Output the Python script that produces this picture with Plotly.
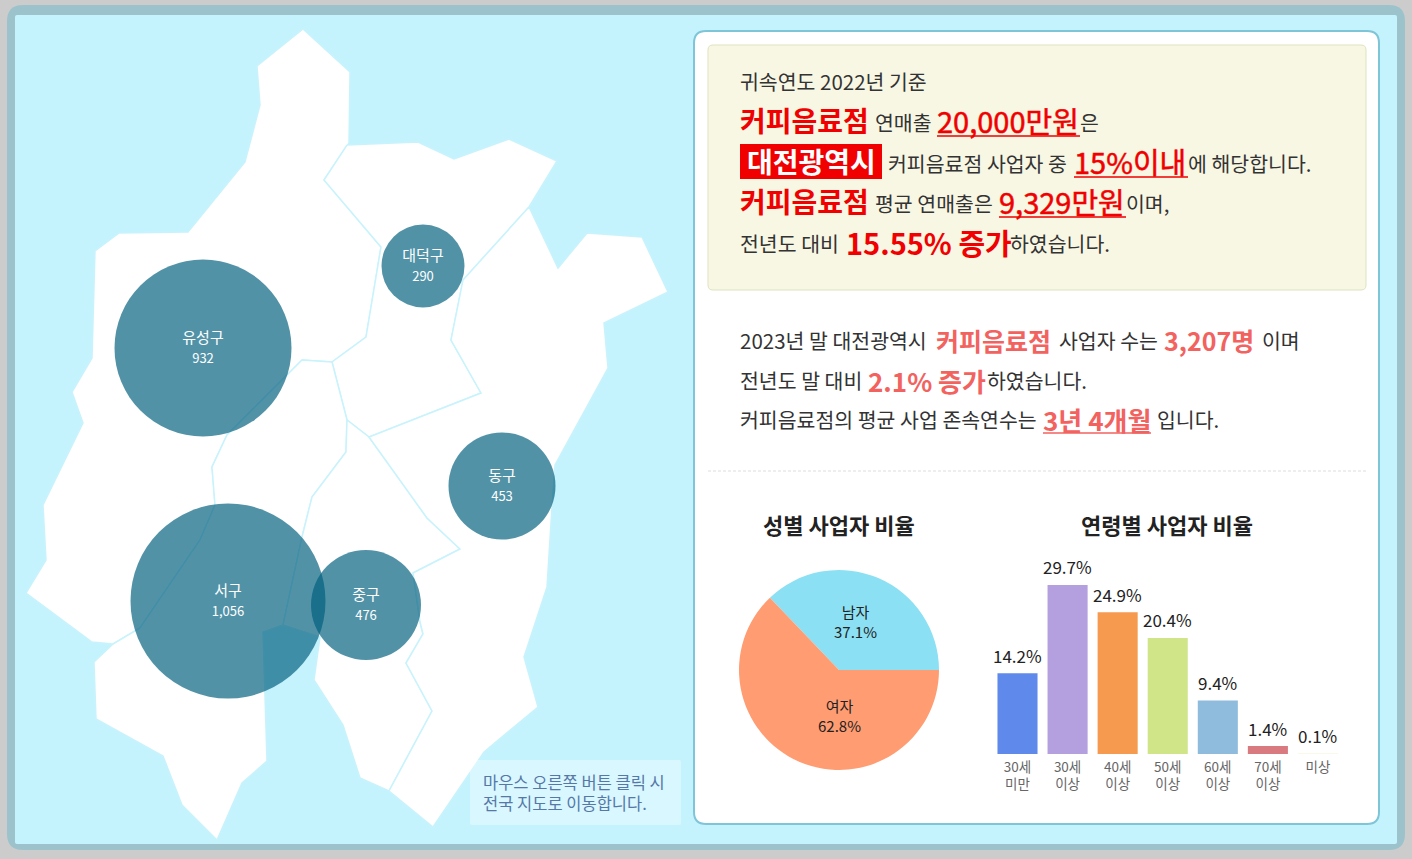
import plotly.graph_objects as go

FONT = "Noto Sans CJK KR"
RED = "#f00000"
CORAL = "#f2625f"
DARK = "#333333"
BODY = 20.5

# districts of the map, outline points
yuseong_x = [303, 350, 349, 324, 381, 366, 332, 302, 227, 212, 215, 200, 140, 113, 92, 26, 46, 43, 83, 72, 92, 95, 119, 188, 245, 260, 257]
yuseong_y = [29, 72, 143, 180, 247, 337, 362, 360, 435, 467, 505, 540, 628, 644, 642, 593, 560, 505, 423, 392, 358, 251, 233, 232, 162, 105, 66]
daedeok_x = [347, 324, 381, 366, 332, 347, 369, 481, 451, 463, 529, 557, 509, 454, 418]
daedeok_y = [145, 180, 247, 337, 362, 420, 437, 393, 340, 280, 207, 161, 139, 159, 142]
seo_x = [302, 332, 347, 346, 312, 302, 283, 263, 267, 242, 217, 182, 163, 96, 94, 113, 140, 200, 215, 212, 227]
seo_y = [360, 362, 420, 452, 497, 537, 625, 632, 761, 783, 840, 805, 756, 719, 662, 644, 628, 540, 505, 467, 435]
jung_x = [347, 369, 400, 427, 460, 413, 420, 423, 406, 432, 389, 360, 343, 314, 320, 283, 302, 312, 346]
jung_y = [420, 437, 480, 518, 549, 573, 622, 634, 663, 711, 791, 778, 725, 680, 637, 625, 537, 497, 452]
dong_x = [529, 463, 451, 481, 369, 400, 427, 460, 413, 420, 423, 406, 432, 389, 433, 484, 538, 524, 547, 552, 555, 608, 604, 668, 642, 587, 558]
dong_y = [207, 280, 340, 393, 437, 480, 518, 549, 573, 622, 634, 663, 711, 791, 827, 752, 707, 657, 587, 507, 465, 368, 323, 292, 237, 233, 268]

# bubbles
district_names = ["유성구", "대덕구", "동구", "서구", "중구"]
district_counts = ["932", "290", "453", "1,056", "476"]
bubble_x = [203, 423, 502, 228, 366]
bubble_y = [348, 266, 486, 601, 605]
bubble_diameter = [177, 83, 107, 195, 110]

# gender pie
gender_labels = ["남자", "여자"]
gender_values = [37.1, 62.8]
gender_label_x = [855, 839]
gender_label_y = [621, 715]

# age bars
age_labels = ["30세<br>미만", "30세<br>이상", "40세<br>이상", "50세<br>이상", "60세<br>이상", "70세<br>이상", "미상"]
age_values = [14.2, 29.7, 24.9, 20.4, 9.4, 1.4, 0.1]
age_colors = ["#5f8aec", "#b49fdf", "#f59a4f", "#cfe588", "#8fbbdc", "#d87a80", "#f6f9df"]


def rounded(x0, y0, x1, y1, r):
    return (f"M{x0 + r},{y0} L{x1 - r},{y0} Q{x1},{y0} {x1},{y0 + r} L{x1},{y1 - r} Q{x1},{y1} {x1 - r},{y1} "
            f"L{x0 + r},{y1} Q{x0},{y1} {x0},{y1 - r} L{x0},{y0 + r} Q{x0},{y0} {x0 + r},{y0} Z")


fig = go.Figure()


def add_box(x0, y0, x1, y1, r, fill, line=None, width=1, layer="below"):
    fig.add_shape(type="path", path=rounded(x0, y0, x1, y1, r), xref="x", yref="y", layer=layer,
                  fillcolor=fill, line=dict(color=line, width=width if line else 0))


def add_text(x, y, text, size=BODY, color=DARK, bold=False, anchor="left"):
    if bold:
        text = f"<b>{text}</b>"
    fig.add_annotation(x=x, y=y, xref="x", yref="y", text=text, showarrow=False, xanchor=anchor, yanchor="middle",
                       align=anchor, font=dict(family=FONT, size=size, color=color), borderpad=0)


def add_medium(x, y, text, size, color):
    # no medium weight installed, thin outline on the regular one
    add_text(x, y, f'<span style="stroke:{color};stroke-width:0.5px">{text}</span>', size, color)


def add_underline(x0, x1, y, color):
    fig.add_shape(type="line", x0=x0, x1=x1, y0=y, y1=y, xref="x", yref="y", layer="above",
                  line=dict(color=color, width=1.5))


# frame and panels
add_box(7, 5, 1405, 850, 16, "#9cc3cc")
add_box(15, 15, 1397, 844, 2, "#c5f3fd")
add_box(694, 31, 1379, 824, 12, "#ffffff", "#7fc5d8", 2)
add_box(708, 45, 1366, 290, 5, "#f8f7e3", "#dfe3c0", 1)
fig.add_shape(type="line", x0=708, x1=1366, y0=471, y1=471, xref="x", yref="y", layer="below",
              line=dict(color="#dddddd", width=1, dash="3px,2px"))

# map
for xs, ys in [(yuseong_x, yuseong_y), (daedeok_x, daedeok_y), (seo_x, seo_y), (jung_x, jung_y), (dong_x, dong_y)]:
    fig.add_trace(go.Scatter(x=xs + xs[:1], y=ys + ys[:1], mode="lines", fill="toself", fillcolor="#ffffff",
                             line=dict(color="#c9f3fc", width=1.5), hoverinfo="skip", showlegend=False))

fig.add_trace(go.Scatter(x=bubble_x, y=bubble_y, mode="markers",
                         marker=dict(size=bubble_diameter, color="rgba(0,95,125,0.68)", opacity=1, line=dict(width=0)),
                         showlegend=False))
bubble_text = [f'{n}<br><span style="font-size:13px">{c}</span>' for n, c in zip(district_names, district_counts)]
fig.add_trace(go.Scatter(x=bubble_x, y=[y + 1 for y in bubble_y], mode="text", text=bubble_text,
                         textposition="middle center", textfont=dict(family=FONT, size=15, color="#ffffff"),
                         showlegend=False))

# notice over the map
add_box(470, 760, 681, 825, 2, "rgba(255,255,255,0.35)", layer="above")
add_text(482, 792, "마우스 오른쪽 버튼 클릭 시<br>전국 지도로 이동합니다.", 16.5, "#5578a8")

# yellow box text
add_text(739, 81, "귀속연도 2022년 기준")

add_text(739, 120, "커피음료점", 28, RED, True)
add_text(874, 122, "연매출")
add_medium(936, 120, "20,000만원", 29, RED)
add_text(1079, 122, "은")
add_underline(937, 1080, 136, RED)

fig.add_shape(type="rect", x0=740, x1=882, y0=144, y1=179, xref="x", yref="y", layer="below",
              fillcolor="#f00000", line_width=0)
add_text(746, 161, "대전광역시", 28, "#ffffff", True)
add_text(887, 163, "커피음료점 사업자 중")
add_medium(1073, 161, "15%이내", 29, RED)
add_text(1187, 163, "에 해당합니다.")
add_underline(1074, 1188, 177, RED)

add_text(739, 201, "커피음료점", 28, RED, True)
add_text(874, 203, "평균 연매출은")
add_medium(998, 201, "9,329만원", 29, RED)
add_text(1125, 203, "이며,")
add_underline(999, 1126, 217, RED)

add_text(739, 243, "전년도 대비")
add_text(845, 242, "15.55% 증가", 29, RED, True)
add_text(1009, 243, "하였습니다.")

# white box text
add_text(739, 340, "2023년 말 대전광역시")
add_text(935, 340, "커피음료점", 25, CORAL, True)
add_text(1058, 340, "사업자 수는")
add_text(1163, 340, "3,207명", 25, CORAL, True)
add_text(1261, 340, "이며")

add_text(739, 380, "전년도 말 대비")
add_text(867, 380, "2.1% 증가", 26, CORAL, True)
add_text(986, 380, "하였습니다.")

add_text(739, 419, "커피음료점의 평균 사업 존속연수는")
add_text(1042, 419, "3년 4개월", 26, CORAL, True)
add_text(1156, 419, "입니다.")
add_underline(1043, 1151, 433, CORAL)

add_text(839, 524, "성별 사업자 비율", 22, "#222222", True, "center")
add_text(1167, 524, "연령별 사업자 비율", 22, "#222222", True, "center")

# pie
fig.add_trace(go.Pie(labels=gender_labels, values=gender_values, sort=False, direction="clockwise", rotation=-43.7,
                     textinfo="none", marker=dict(colors=["#8ce0f3", "#ff9c72"], line=dict(width=0)),
                     domain=dict(x=[739 / 1412, 939 / 1412], y=[1 - 770 / 859, 1 - 570 / 859]),
                     showlegend=False))
for label, value, lx, ly in zip(gender_labels, gender_values, gender_label_x, gender_label_y):
    add_text(lx, ly, f"{label}<br>{value}%", 15, "#222222", False, "center")

# bars
fig.add_trace(go.Bar(x=age_labels, y=age_values, width=0.8, marker=dict(color=age_colors, line=dict(width=0)),
                     xaxis="x2", yaxis="y2", showlegend=False))
for label, value in zip(age_labels, age_values):
    fig.add_annotation(x=label, y=value, xref="x2", yref="y2", yshift=18, text=f"{value}%", showarrow=False,
                       font=dict(family=FONT, size=17, color="#222222"))

fig.update_layout(
    width=1412, height=859, margin=dict(l=0, r=0, t=0, b=0), paper_bgcolor="#cccccc", plot_bgcolor="rgba(0,0,0,0)",
    xaxis=dict(range=[0, 1412], visible=False, fixedrange=True),
    yaxis=dict(range=[859, 0], visible=False, fixedrange=True),
    xaxis2=dict(domain=[991 / 1412, 1343 / 1412], anchor="y2", type="category", showgrid=False, showline=False,
                ticks="", tickfont=dict(family=FONT, size=13.5, color="#666666"), tickangle=0, ticklabelstandoff=3,
                fixedrange=True),
    yaxis2=dict(domain=[1 - 754 / 859, 1 - 566.2 / 859], anchor="x2", range=[0, 33], visible=False, fixedrange=True),
    bargap=0.2,
)

fig.write_html("out.html", config={"displayModeBar": False}, post_script="document.body.style.margin='0';")
